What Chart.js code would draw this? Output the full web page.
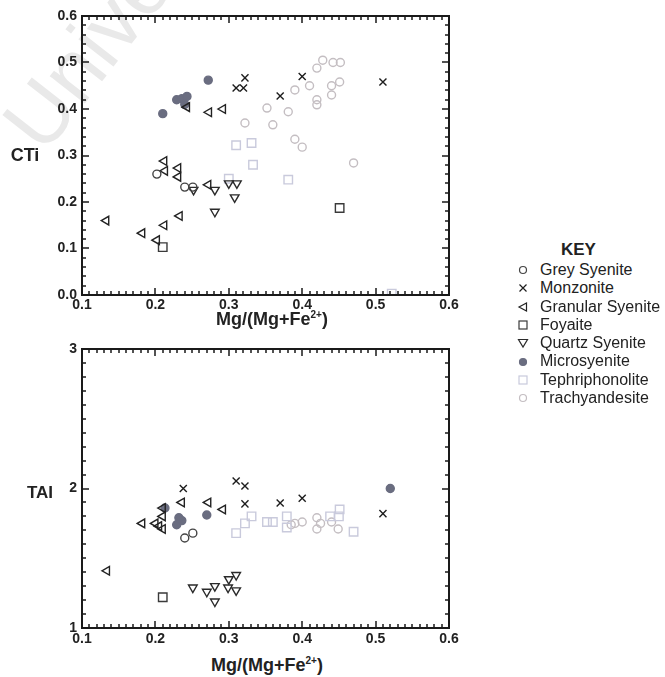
<!DOCTYPE html>
<html>
<head>
<meta charset="utf-8">
<script src="https://cdn.jsdelivr.net/npm/chart.js@4.4.1/dist/chart.umd.min.js"></script>
<style>
  body { margin: 0; background: #fff; font-family: "Liberation Sans", Arial, sans-serif; }
  #page { position: relative; width: 665px; height: 677px; overflow: hidden; }
  canvas { position: absolute; left: 0; }
  .lbl { position: absolute; font-weight: bold; color: #222; white-space: nowrap; transform: translate(-50%, -50%); }
  .xt { font-size: 18px; }
  .xt sup { font-size: 10px; }
  #watermark { position: absolute; left: -12px; top: 112px; font-size: 84px; color: #e9e9e9;
    transform: rotate(-52deg); transform-origin: left top; white-space: nowrap; line-height: 1; }
  #key { position: absolute; left: 515px; top: 238px; font-size: 16px; color: #222; }
  #key .head { font-weight: bold; font-size: 17px; margin-left: 46px; height: 23px; line-height: 23px; }
  #key .row { height: 18.3px; line-height: 18.3px; display: flex; align-items: center; }
  #key svg { width: 16px; height: 12px; margin-right: 9px; }
</style>
</head>
<body>
<div id="page">
  <div id="watermark">University</div>
  <canvas id="ctiChart" width="470" height="315" style="top:0"></canvas>
  <canvas id="taiChart" width="470" height="320" style="top:330px"></canvas>
  <div class="lbl" style="left:25px; top:155px; font-size:18px">CTi</div>
  <div class="lbl" style="left:40px; top:493px; font-size:17px">TAI</div>
  <div class="lbl xt" style="left:272px; top:319px">Mg/(Mg+Fe<sup>2+</sup>)</div>
  <div class="lbl xt" style="left:267px; top:665px">Mg/(Mg+Fe<sup>2+</sup>)</div>
  <div id="key"></div>
</div>
<script>
// rock types in key order
const rockTypes = ['Grey Syenite', 'Monzonite', 'Granular Syenite', 'Foyaite', 'Quartz Syenite',
  'Microsyenite', 'Tephriphonolite', 'Trachyandesite'];

const xTicks = [0.1, 0.2, 0.3, 0.4, 0.5, 0.6];
const ctiTicks = [0, 0.1, 0.2, 0.3, 0.4, 0.5, 0.6];
const taiTicks = [1, 2, 3];

// CTi vs Mg/(Mg+Fe2+)
const greySyeniteCTi = [[0.202, 0.26], [0.24, 0.232], [0.251, 0.232]];
const monzoniteCTi = [[0.31, 0.445], [0.32, 0.445], [0.322, 0.467], [0.37, 0.428], [0.40, 0.47], [0.51, 0.458]];
const granularCTi = [[0.133, 0.16], [0.182, 0.133], [0.202, 0.118], [0.212, 0.15], [0.233, 0.17],
  [0.212, 0.288], [0.213, 0.267], [0.231, 0.273], [0.231, 0.254], [0.243, 0.404], [0.273, 0.393],
  [0.292, 0.40], [0.272, 0.237]];
const foyaiteCTi = [[0.21, 0.103], [0.451, 0.187]];
const quartzCTi = [[0.281, 0.179], [0.308, 0.21], [0.311, 0.24], [0.30, 0.24], [0.281, 0.226], [0.252, 0.226]];
const microCTi = [[0.21, 0.39], [0.229, 0.42], [0.236, 0.422], [0.243, 0.427], [0.24, 0.41], [0.272, 0.462]];
const tephriCTi = [[0.30, 0.25], [0.31, 0.322], [0.331, 0.327], [0.333, 0.28], [0.381, 0.248], [0.522, 0.003]];
const trachyCTi = [[0.322, 0.37], [0.352, 0.402], [0.36, 0.366], [0.381, 0.394], [0.39, 0.441], [0.42, 0.409],
  [0.42, 0.42], [0.44, 0.43], [0.44, 0.45], [0.451, 0.458], [0.428, 0.505], [0.442, 0.50], [0.42, 0.488],
  [0.47, 0.284], [0.40, 0.318], [0.39, 0.335], [0.452, 0.50], [0.41, 0.45]];

// TAI vs Mg/(Mg+Fe2+)
const greySyeniteTAI = [[0.24, 1.645], [0.251, 1.68]];
const monzoniteTAI = [[0.31, 2.054], [0.322, 2.018], [0.238, 2.0], [0.322, 1.89], [0.37, 1.896], [0.40, 1.93], [0.51, 1.82]];
const granularTAI = [[0.134, 1.41], [0.182, 1.75], [0.20, 1.75], [0.21, 1.80], [0.21, 1.86], [0.21, 1.71],
  [0.236, 1.90], [0.272, 1.90], [0.292, 1.85], [0.205, 1.73]];
const foyaiteTAI = [[0.21, 1.22]];
const quartzTAI = [[0.251, 1.29], [0.27, 1.26], [0.281, 1.30], [0.281, 1.19], [0.30, 1.35], [0.31, 1.38],
  [0.299, 1.29], [0.31, 1.27]];
const microTAI = [[0.229, 1.74], [0.236, 1.77], [0.232, 1.79], [0.27, 1.81], [0.52, 2.0], [0.213, 1.86]];
const tephriTAI = [[0.31, 1.68], [0.322, 1.75], [0.331, 1.80], [0.352, 1.76], [0.36, 1.76], [0.379, 1.72],
  [0.379, 1.80], [0.451, 1.85], [0.47, 1.69], [0.438, 1.80], [0.45, 1.80]];
const trachyTAI = [[0.385, 1.74], [0.40, 1.76], [0.42, 1.79], [0.425, 1.75], [0.42, 1.71], [0.449, 1.71],
  [0.44, 1.76], [0.39, 1.75]];

// marker look per rock type
const styles = [
  { pointStyle: 'circle', pointRadius: 4, pointRotation: 0, color: '#444', fill: false },
  { pointStyle: 'crossRot', pointRadius: 5, pointRotation: 0, color: '#1e1e1e', fill: false },
  { pointStyle: 'triangle', pointRadius: 5, pointRotation: -90, color: '#222', fill: false },
  { pointStyle: 'rect', pointRadius: 6, pointRotation: 0, color: '#3a3a3a', fill: false },
  { pointStyle: 'triangle', pointRadius: 5, pointRotation: 180, color: '#2a2a2a', fill: false },
  { pointStyle: 'circle', pointRadius: 4, pointRotation: 0, color: '#6a6d80', fill: true },
  { pointStyle: 'rect', pointRadius: 6, pointRotation: 0, color: '#c9cadc', fill: false },
  { pointStyle: 'circle', pointRadius: 4, pointRotation: 0, color: '#c4bec2', fill: false }
];

function makeSets(lists) {
  return lists.map((pts, i) => {
    const s = styles[i];
    return {
      label: rockTypes[i],
      data: pts.map(p => ({ x: p[0], y: p[1] })),
      pointStyle: s.pointStyle,
      pointRadius: s.pointRadius,
      pointRotation: s.pointRotation,
      borderColor: s.color,
      backgroundColor: s.fill ? s.color : 'rgba(0,0,0,0)',
      borderWidth: 1.4
    };
  });
}

// box frame with inward major/minor ticks on all four sides
function frameTicks(xMinor, yMinor, yMajor) {
  return {
    id: 'frameTicks',
    afterDraw(chart) {
      const ctx = chart.ctx;
      const a = chart.chartArea;
      const x = chart.scales.x, y = chart.scales.y;
      const L = Math.round(a.left), R = Math.round(a.right);
      const T = Math.round(a.top), B = Math.round(a.bottom);
      ctx.save();
      ctx.strokeStyle = '#1a1a1a';
      ctx.lineWidth = 2;
      ctx.strokeRect(L, T, R - L, B - T);
      ctx.lineWidth = 1.5;
      const side = (scale, step, major, horiz) => {
        const n = Math.round((scale.max - scale.min) / step);
        for (let i = 0; i <= n; i++) {
          const v = scale.min + i * step;
          const isMajor = Math.abs(v / major - Math.round(v / major)) < 1e-6;
          const len = isMajor ? 7 : 4;
          const p = Math.round(scale.getPixelForValue(v));
          ctx.beginPath();
          if (horiz) {
            ctx.moveTo(p, B); ctx.lineTo(p, B - len);
            ctx.moveTo(p, T); ctx.lineTo(p, T + len);
          } else {
            ctx.moveTo(L, p); ctx.lineTo(L + len, p);
            ctx.moveTo(R, p); ctx.lineTo(R - len, p);
          }
          ctx.stroke();
        }
      };
      side(x, xMinor, 0.1, true);
      side(y, yMinor, yMajor, false);
      ctx.restore();
    }
  };
}

const tickFont = { family: '"Liberation Sans", Arial, sans-serif', size: 14, weight: 'bold' };

function drawChart(canvas, lists, yTicks, opts) {
  new Chart(canvas, {
    type: 'scatter',
    data: { datasets: makeSets(lists) },
    plugins: [frameTicks(0.01, opts.yMinor, opts.yMajor)],
    options: {
      responsive: false,
      animation: false,
      devicePixelRatio: 1,
      layout: { padding: { top: opts.top, right: 21, left: 0, bottom: 0 } },
      plugins: {
        legend: { display: false },
        tooltip: { enabled: false }
      },
      scales: {
        x: {
          type: 'linear',
          min: xTicks[0],
          max: xTicks[xTicks.length - 1],
          afterBuildTicks: s => { s.ticks = xTicks.map(v => ({ value: v })); },
          afterFit: s => { s.height = opts.xHeight; },
          grid: { display: false, drawTicks: false },
          border: { display: false },
          ticks: { font: tickFont, color: '#222', padding: opts.xPad, maxRotation: 0,
            callback: v => v.toFixed(1) }
        },
        y: {
          type: 'linear',
          min: yTicks[0],
          max: yTicks[yTicks.length - 1],
          afterBuildTicks: s => { s.ticks = yTicks.map(v => ({ value: v })); },
          afterFit: s => { s.width = 82; },
          grid: { display: false, drawTicks: false },
          border: { display: false },
          ticks: { font: tickFont, color: '#222', padding: opts.yPad,
            callback: v => opts.yDigits ? v.toFixed(opts.yDigits) : String(v) }
        }
      }
    }
  });
}

drawChart(document.getElementById('ctiChart'),
  [greySyeniteCTi, monzoniteCTi, granularCTi, foyaiteCTi, quartzCTi, microCTi, tephriCTi, trachyCTi],
  ctiTicks, { top: 16, xHeight: 20, xPad: 2, yPad: 5, yDigits: 1, yMinor: 0.02, yMajor: 0.1 });

drawChart(document.getElementById('taiChart'),
  [greySyeniteTAI, monzoniteTAI, granularTAI, foyaiteTAI, quartzTAI, microTAI, tephriTAI, trachyTAI],
  taiTicks, { top: 19, xHeight: 22, xPad: 3, yPad: 5, yDigits: 0, yMinor: 0.1, yMajor: 1 });

// key (legend) built from the same marker styles
const key = document.getElementById('key');
key.innerHTML = '<div class="head">KEY</div>';
rockTypes.forEach((name, i) => {
  const s = styles[i];
  const fill = s.fill ? s.color : 'none';
  let shape = '';
  if (s.pointStyle === 'circle') shape = `<circle cx="8" cy="6" r="3.5" stroke="${s.color}" fill="${fill}" stroke-width="1.2"/>`;
  else if (s.pointStyle === 'crossRot') shape = `<path d="M4.5 2.5 L11.5 9.5 M11.5 2.5 L4.5 9.5" stroke="${s.color}" stroke-width="1.2"/>`;
  else if (s.pointStyle === 'rect') shape = `<rect x="4" y="2" width="8" height="8" stroke="${s.color}" fill="none" stroke-width="1.2"/>`;
  else if (s.pointRotation === 180) shape = `<path d="M3.5 2.5 L12.5 2.5 L8 10 Z" stroke="${s.color}" fill="none" stroke-width="1.2"/>`;
  else shape = `<path d="M4 6 L11.5 2 L11.5 10 Z" stroke="${s.color}" fill="none" stroke-width="1.2"/>`;
  key.innerHTML += `<div class="row"><svg viewBox="0 0 16 12">${shape}</svg><span>${name}</span></div>`;
});
</script>
</body>
</html>
